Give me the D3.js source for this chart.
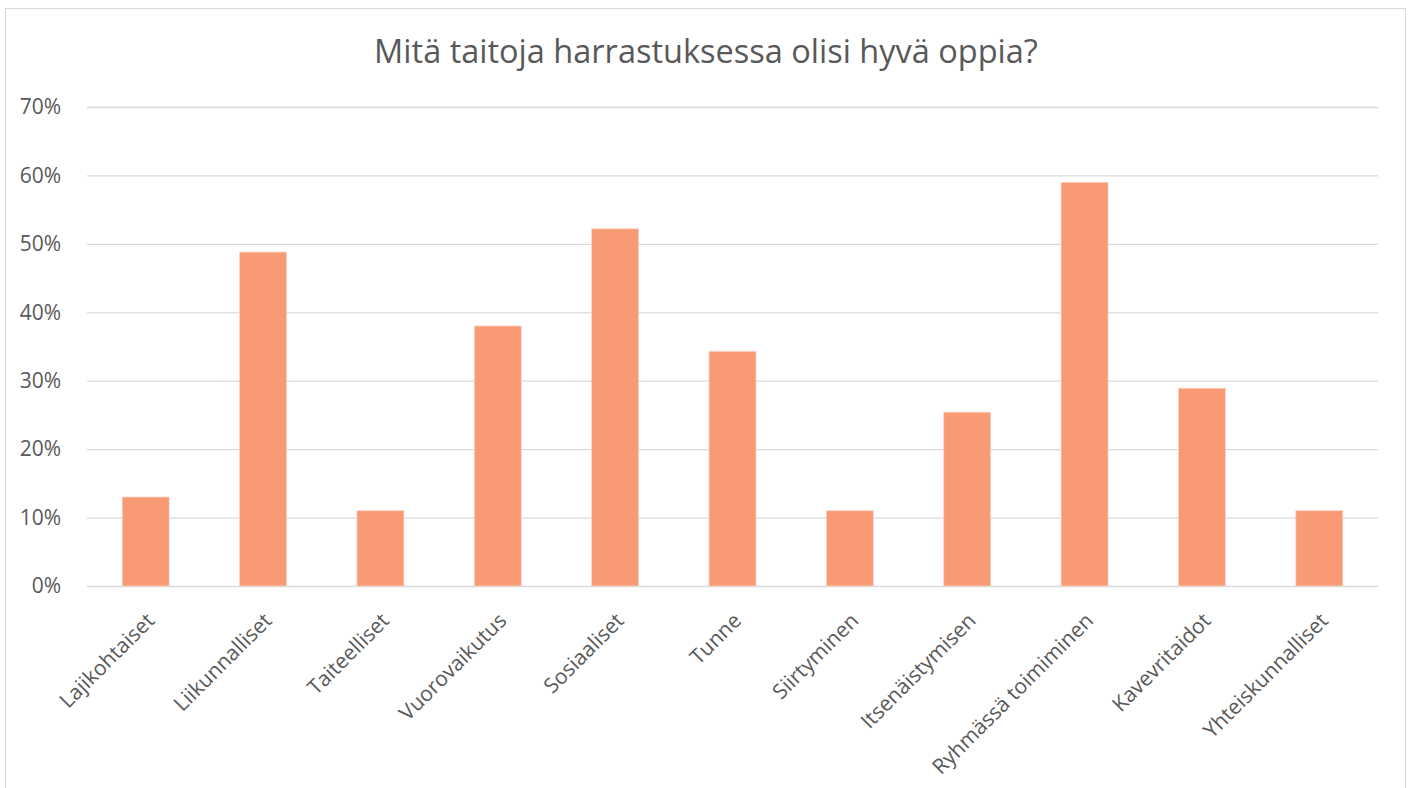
<!DOCTYPE html>
<html>
<head>
<meta charset="utf-8">
<script src="https://cdn.jsdelivr.net/npm/d3@7"></script>
<style>
  body { margin: 0; background: #fff; }
  svg text { font-family: "Open Sans", "Noto Sans", sans-serif; fill: #595959; }
</style>
</head>
<body>
<svg id="chart" width="1410" height="788"></svg>
<script>
// chart data
const categories = ["Lajikohtaiset", "Liikunnalliset", "Taiteelliset", "Vuorovaikutus", "Sosiaaliset", "Tunne",
	"Siirtyminen", "Itsenäistymisen", "Ryhmässä toimiminen", "Kavevritaidot", "Yhteiskunnalliset"];
const values = [0.13, 0.488, 0.11, 0.38, 0.522, 0.343, 0.11, 0.254, 0.59, 0.289, 0.11];
const yTicks = [0, 0.1, 0.2, 0.3, 0.4, 0.5, 0.6, 0.7];

const svg = d3.select("#chart");

// outer border
svg.append("rect")
	.attr("x", 5.5).attr("y", 8.5)
	.attr("width", 1400).attr("height", 800)
	.attr("fill", "none").attr("stroke", "#d9d9d9");

svg.append("text")
	.attr("x", 706).attr("y", 63)
	.attr("text-anchor", "middle")
	.style("font-size", "32.5px")
	.text("Mitä taitoja harrastuksessa olisi hyvä oppia?");

let margin = { top: 107, left: 87 },
	width = 1378 - 87,
	height = 586 - 107;

let chart = svg.append("g")
	.attr("transform", "translate(" + margin.left + "," + margin.top + ")");

let xScale = d3.scaleBand()
	.domain(categories)
	.range([0, width])
	.paddingInner(0.6)
	.paddingOuter(0.3);

let yScale = d3.scaleLinear()
	.domain([0, 0.7])
	.range([height, 0]);

// gridlines
chart.append("g")
	.selectAll("line")
	.data(yTicks)
	.join("line")
	.attr("x1", 0).attr("x2", width)
	.attr("y1", d => yScale(d) + 0.5).attr("y2", d => yScale(d) + 0.5)
	.attr("stroke", "#d9d9d9")
	.attr("stroke-width", 1.3);

// y axis labels
let yAxis = chart.append("g")
	.attr("transform", "translate(-23,0)")
	.call(d3.axisLeft(yScale).tickValues(yTicks).tickFormat(d3.format(".0%")).tickSize(0));
yAxis.select(".domain").remove();
yAxis.selectAll("text").style("font-size", "21px").attr("fill", "#595959");

// bars
chart.selectAll("rect.bar")
	.data(values)
	.join("rect")
	.attr("class", "bar")
	.attr("x", (d, i) => xScale(categories[i]))
	.attr("y", d => yScale(d))
	.attr("width", xScale.bandwidth())
	.attr("height", d => height - yScale(d))
	.attr("fill", "#f89a73")
	.attr("stroke", "#fbd3c2")
	.attr("stroke-width", 0.8);

// x labels
chart.append("g")
	.selectAll("text")
	.data(categories)
	.join("text")
	.attr("transform", d => "translate(" + (xScale(d) + xScale.bandwidth() / 2 + 10) + "," + (height + 36) + ") rotate(-45)")
	.attr("text-anchor", "end")
	.style("font-size", "21px")
	.text(d => d);
</script>
</body>
</html>
